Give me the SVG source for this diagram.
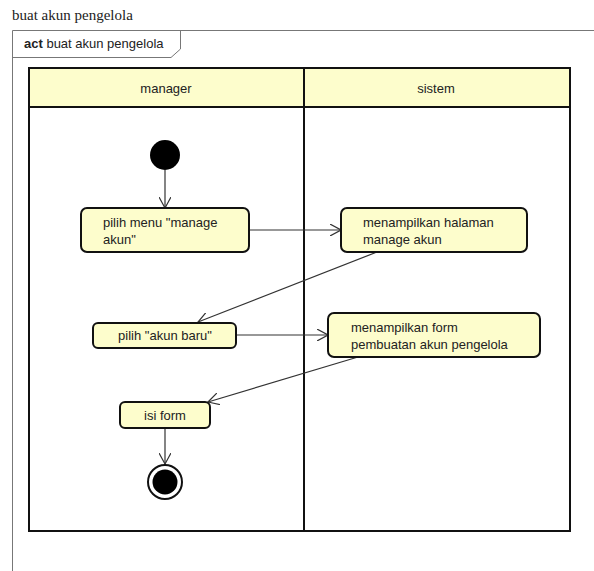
<svg xmlns="http://www.w3.org/2000/svg" width="594" height="571" viewBox="0 0 594 571">
<defs>
<style>
.t{font-family:"Liberation Sans",Arial,sans-serif;font-size:13px;fill:#222}
.node{fill:#fdfdcc;stroke:#111;stroke-width:2}
.lane{fill:none;stroke:#111;stroke-width:2}
.edge{stroke:#333;stroke-width:1.2;fill:none;marker-end:url(#arr)}
</style>
<marker id="arr" viewBox="0 0 12 12" refX="11" refY="6" markerWidth="12" markerHeight="12" markerUnits="userSpaceOnUse" orient="auto">
<path d="M0,0 L11,6 L0,12" fill="none" stroke="#333" stroke-width="1.2"/>
</marker>
</defs>
<rect width="594" height="571" fill="#fff"/>
<text x="12" y="20" font-family="Liberation Serif,Times New Roman,serif" font-size="15" fill="#222">buat akun pengelola</text>
<g id="frame">
<path d="M12.5,571 V30.5 H594" fill="none" stroke="#777" stroke-width="1"/>
<path d="M12.5,57.5 H171 L180.5,49 V30.5" fill="none" stroke="#777" stroke-width="1"/>
<text x="24" y="48" class="t" font-size="12"><tspan font-weight="bold">act</tspan> buat akun pengelola</text>
</g>
<g id="lanes">
<rect x="29" y="68" width="541" height="39" fill="#fdfdcc"/>
<rect x="29" y="68" width="541" height="463" class="lane"/>
<line x1="29" y1="107" x2="570" y2="107" stroke="#111" stroke-width="2"/>
<line x1="304" y1="68" x2="304" y2="531" stroke="#111" stroke-width="2"/>
<text x="166" y="93" class="t" text-anchor="middle">manager</text>
<text x="436" y="93" class="t" text-anchor="middle">sistem</text>
</g>
<g id="connectors">
<line x1="165" y1="170" x2="165" y2="208" class="edge"/>
<line x1="249" y1="230" x2="341" y2="230" class="edge"/>
<line x1="377" y1="252" x2="198" y2="322" class="edge"/>
<line x1="236" y1="335" x2="328" y2="335" class="edge"/>
<line x1="358" y1="357" x2="208" y2="402" class="edge"/>
<line x1="165" y1="428" x2="165" y2="464" class="edge"/>
</g>
<g id="start"><circle cx="165" cy="155" r="15" fill="#000"/></g>
<g id="n1">
<rect x="81" y="208" width="168" height="44" rx="6" class="node"/>
<text x="103" y="227" class="t">pilih menu "manage</text>
<text x="103" y="244" class="t">akun"</text>
</g>
<g id="n2">
<rect x="341" y="208" width="186" height="44" rx="6" class="node"/>
<text x="363" y="227" class="t">menampilkan halaman</text>
<text x="363" y="244" class="t">manage akun</text>
</g>
<g id="n3">
<rect x="93" y="323" width="143" height="25" rx="5" class="node"/>
<text x="165" y="340" class="t" text-anchor="middle">pilih "akun baru"</text>
</g>
<g id="n4">
<rect x="328" y="313" width="212" height="44" rx="6" class="node"/>
<text x="351" y="332" class="t">menampilkan form</text>
<text x="351" y="349" class="t">pembuatan akun pengelola</text>
</g>
<g id="n5">
<rect x="120" y="402" width="90" height="26" rx="5" class="node"/>
<text x="165" y="420" class="t" text-anchor="middle">isi form</text>
</g>
<g id="end">
<circle cx="165" cy="482" r="17" fill="#fff" stroke="#111" stroke-width="2"/>
<circle cx="165" cy="482" r="12.5" fill="#000"/>
</g>
</svg>
